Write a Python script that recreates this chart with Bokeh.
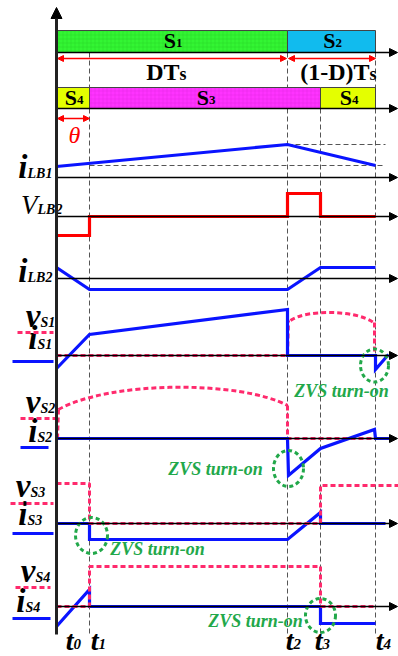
from bokeh.plotting import figure
from bokeh.models import Range1d, Arrow, NormalHead
from bokeh.core.properties import value
from bokeh.embed import file_html
from bokeh.resources import INLINE

# ---------------- data ----------------
# switching instants (time units, t0 = 0, Ts = 319)
T = [0, 33, 231, 264, 319]
t_labels = ["0", "1", "2", "3", "4"]
T0, T1, T2, T3, T4 = T

# panel baselines (vertical layout units, downward)
base_bar1, base_bar2 = 52, 108
base_iLB1, base_vLB2, base_iLB2 = 177, 216, 278
base_S1, base_S2, base_S3, base_S4 = 355, 438, 523, 606

# gate bars
bar1_names = ["1", "2"]
bar1_start = [T0, T2]
bar1_end = [T2, T4]
bar2_names = ["4", "3", "4"]
bar2_start = [T0, T1, T3]
bar2_end = [T1, T3, T4]

# waveforms: (time, level above baseline)
iLB1_t = [T0, T2, T4]
iLB1_v = [11, 33, 12]
vLB2_t = [T0, T1, T1, T2, T2, T3, T3, T4]
vLB2_v = [-19, -19, 0, 0, 23, 23, 0, 0]
iLB2_t = [T0, T1, T2, T3, T4]
iLB2_v = [11, -11, -11, 11, 11]

iS1_t = [T0, T1, T2, T2, T4, T4, T4 + 13]
iS1_v = [-13, 21, 46, 0, 0, -14, 1]
vS1_t = [T0, T2, T2 + 1]
vS1_v = [0, 0, 35]
vS1_arc = [T2 + 3, 35, T4 - 2, 33]          # arc start/end (t, level)
vS1_ctrl = [T2 + 18, 46, T4 - 20, 46]
vS1_tail_t = [T4 - 1, T4 - 1]
vS1_tail_v = [33, 0]

iS2_t = [T0, T2, T2 + 1, T3, T4 - 1, T4, T4 + 18]
iS2_v = [0, 0, -37, -10, 9, 0, 0]
vS2_t = [T0 + 1, T0 + 2]
vS2_v = [0, 29]
vS2_arc = [T0 + 2, 29, T2, 33]
vS2_ctrl = [T0 + 54, 58, T2 - 47, 58]
vS2_tail_t = [T2, T2, T4 - 3]
vS2_tail_v = [33, 0, 0]

vS3_t = [T0, T1, T1, T3, T3, T4 + 23]
vS3_v = [40, 40, 0, 0, 38, 38]
iS3_t = [T0, T1, T1, T2, T3, T3, T4 + 10]
iS3_v = [0, 0, -16, -16, 11, 0, 0]

vS4_t = [T0, T1, T1, T3, T3, T4]
vS4_v = [0, 0, 40, 40, 0, 0]
iS4_t = [T0, T1, T1, T3, T3, T4]
iS4_v = [-20, 17, 0, 0, -17, -17]

zvs_text = "ZVS turn-on"

BLUE = "#0a14ff"
RED = "#ff0000"
PINK = "#ff2a6d"
GREEN = "#22a84a"
FONT = value("Liberation Serif")
MID = 0.3375   # baseline -> middle offset (fraction of font size)

p = figure(width=398, height=656, output_backend="svg", toolbar_location=None,
           x_range=Range1d(-56, 398 - 56), y_range=Range1d(656, 0),
           min_border=0, outline_line_color=None)
p.axis.visible = False
p.grid.visible = False
p.background_fill_color = "white"


def X(px):
    return px - 56


def lvl(base, vals):
    return [base - v for v in vals]


def txt(x, base, text, size, align="left", style="bold", color="black"):
    p.text(x=[x], y=[base - MID * size], text=[text], text_align=align,
           text_baseline="middle", text_font=FONT, text_font_size=f"{size}px",
           text_font_style=style, text_color=color)


def sublabel(xs, y, main, sub, msize, ssize, color="black", style="bold", sstyle=None):
    txt(xs, y, main, msize, align="right", style=style, color=color)
    txt(xs, y, sub, ssize, align="left", style=sstyle or style, color=color)


# gray dashed time markers
vd = dict(line_color="#555555", line_width=1, line_dash="5 3")
p.segment(x0=[T1, T2, T3, T4], y0=[52, 52, 108, 52], x1=[T1, T2, T3, T4],
          y1=[636, 633, 633, 633], **vd)
# i_LB1 dashed reference levels
p.segment(x0=[T2, T1], y0=[base_iLB1 - 33, base_iLB1 - 12], x1=[X(385), X(385)],
          y1=[base_iLB1 - 33, base_iLB1 - 12], **vd)

# horizontal axes
for b in [base_bar1, base_bar2, base_iLB1, base_vLB2, base_iLB2,
          base_S1, base_S2, base_S3, base_S4]:
    p.add_layout(Arrow(end=NormalHead(size=8, fill_color="black", line_color="black"),
                       x_start=0, y_start=b, x_end=X(397), y_end=b,
                       line_color="black", line_width=1.5))

# gate bars
bar_cols1 = ["#33f533", "#11bbee"]
p.quad(left=bar1_start, right=bar1_end, top=[30, 30], bottom=[base_bar1] * 2,
       fill_color=bar_cols1, line_color="#444444", line_width=1,
       hatch_pattern=["cross", " "], hatch_color="#22cc22", hatch_alpha=0.35, hatch_scale=4)
bar_cols2 = ["#e4ff00", "#ff33ff", "#e4ff00"]
p.quad(left=bar2_start, right=bar2_end, top=[87] * 3, bottom=[base_bar2] * 3,
       fill_color=bar_cols2, line_color="#444444", line_width=1,
       hatch_pattern=[" ", "cross", " "], hatch_color="#dd22dd", hatch_alpha=0.35, hatch_scale=4)

for s, a, b in zip(bar1_names, bar1_start, bar1_end):
    sublabel((a + b) / 2 + 4, 47, "S", s, 22, 13)
for s, a, b in zip(bar2_names, bar2_start, bar2_end):
    sublabel((a + b) / 2 + 4, 104, "S", s, 22, 13)

# DTs / (1-D)Ts arrows
ah = dict(size=6, fill_color=RED, line_color=RED)
p.add_layout(Arrow(start=NormalHead(**ah), end=NormalHead(**ah), x_start=1, y_start=58,
                   x_end=T2 - 1, y_end=58, line_color=RED, line_width=1.5))
p.add_layout(Arrow(start=NormalHead(**ah), end=NormalHead(**ah), x_start=T2 + 1, y_start=58,
                   x_end=T4, y_end=58, line_color=RED, line_width=1.5))
sublabel(X(179), 80, "DT", "s", 24, 18)
sublabel(X(369), 80, "(1-D)T", "s", 24, 18)
# theta
p.add_layout(Arrow(start=NormalHead(**ah), end=NormalHead(**ah), x_start=1, y_start=118,
                   x_end=T1, y_end=118, line_color=RED, line_width=1.5))
txt(X(74), 143, "θ", 24, align="center", style="italic", color=RED)

# waveforms
wl = dict(line_width=3.2, line_join="miter")
dl = dict(line_color=PINK, line_width=3, line_dash="5 3")

p.line(iLB1_t, lvl(base_iLB1, iLB1_v), line_color=BLUE, **wl)
p.line(vLB2_t, lvl(base_vLB2, vLB2_v), line_color=RED, **wl)
p.line(iLB2_t, lvl(base_iLB2, iLB2_v), line_color=BLUE, **wl)

# S1
p.line(vS1_t, lvl(base_S1, vS1_v), **dl)
p.bezier(x0=[vS1_arc[0]], y0=[base_S1 - vS1_arc[1]], x1=[vS1_arc[2]], y1=[base_S1 - vS1_arc[3]],
         cx0=[vS1_ctrl[0]], cy0=[base_S1 - vS1_ctrl[1]], cx1=[vS1_ctrl[2]],
         cy1=[base_S1 - vS1_ctrl[3]], **dl)
p.line(vS1_tail_t, lvl(base_S1, vS1_tail_v), **dl)
p.line(iS1_t, lvl(base_S1, iS1_v), line_color=BLUE, **wl)

# S2
p.line(vS2_t, lvl(base_S2, vS2_v), **dl)
p.bezier(x0=[vS2_arc[0]], y0=[base_S2 - vS2_arc[1]], x1=[vS2_arc[2]], y1=[base_S2 - vS2_arc[3]],
         cx0=[vS2_ctrl[0]], cy0=[base_S2 - vS2_ctrl[1]], cx1=[vS2_ctrl[2]],
         cy1=[base_S2 - vS2_ctrl[3]], **dl)
p.line(vS2_tail_t, lvl(base_S2, vS2_tail_v), **dl)
p.line(iS2_t, lvl(base_S2, iS2_v), line_color=BLUE, **wl)

# S3
p.line(iS3_t, lvl(base_S3, iS3_v), line_color=BLUE, **wl)
p.line(vS3_t, lvl(base_S3, vS3_v), **dl)

# S4
p.line(iS4_t, lvl(base_S4, iS4_v), line_color=BLUE, **wl)
p.line(vS4_t, lvl(base_S4, vS4_v), **dl)

# ZVS circles and notes
p.ellipse(x=[X(374), X(288), X(91), X(320)], y=[365, 468, 535, 615],
          width=[28, 30, 32, 30], height=[33, 36, 36, 34], fill_color=None,
          line_color=GREEN, line_width=3, line_dash="4 3")
for zx, zy in [(341, 397), (215, 475), (157, 555), (255, 627)]:
    txt(X(zx), zy, zvs_text, 18, align="center", style="bold italic", color=GREEN)

# vertical main axis
p.add_layout(Arrow(end=NormalHead(size=11, fill_color="black", line_color="black"),
                   x_start=0, y_start=634, x_end=0, y_end=7,
                   line_color="#222222", line_width=3))

# left labels
M, S = 33, 14
sublabel(X(27), 178, "i", "LB1", M, S, style="bold italic")
sublabel(X(37), 214, "V", "LB2", 27, S, style="italic", sstyle="bold italic")
sublabel(X(27), 282, "i", "LB2", M, S, style="bold italic")
sublabel(X(40), 327, "v", "S1", M, S, style="bold italic")
sublabel(X(37), 349, "i", "S1", M, S, style="bold italic")
sublabel(X(40), 413, "v", "S2", M, S, style="bold italic")
sublabel(X(37), 442, "i", "S2", M, S, style="bold italic")
sublabel(X(30), 497, "v", "S3", M, S, style="bold italic")
sublabel(X(27), 525, "i", "S3", M, S, style="bold italic")
sublabel(X(35), 582, "v", "S4", M, S, style="bold italic")
sublabel(X(25), 612, "i", "S4", M, S, style="bold italic")

# legend line markers next to labels
p.segment(x0=[X(17), X(20), X(10), X(15)], y0=[332, 418, 503, 587],
          x1=[X(53), X(56), X(53), X(50)], y1=[332, 418, 503, 587], **dl)
p.segment(x0=[X(12), X(20), X(12), X(12)], y0=[361, 447, 533, 618],
          x1=[X(53), X(48), X(53), X(50)], y1=[361, 447, 533, 618],
          line_color=BLUE, line_width=3)

# time labels
t_split = [X(73), X(98), X(293), X(322), X(383)]
for xs, s in zip(t_split, t_labels):
    sublabel(xs, 649, "t", s, 28, 15, style="bold italic")

open("out.html", "w").write(file_html(p, INLINE))
